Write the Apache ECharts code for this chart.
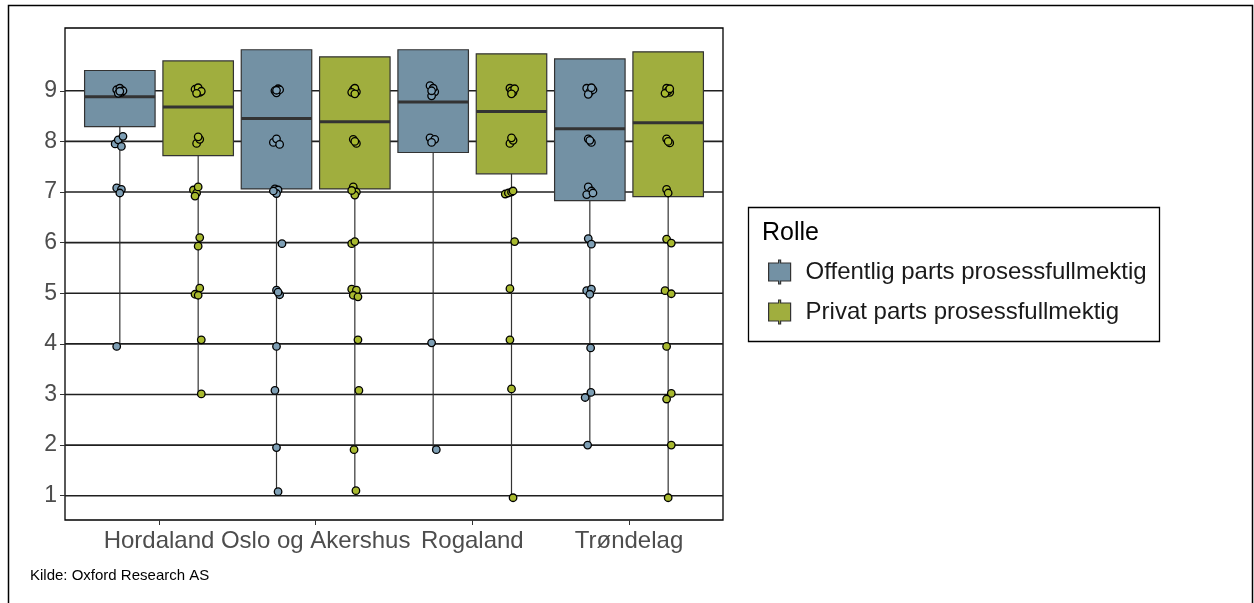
<!DOCTYPE html>
<html>
<head>
<meta charset="utf-8">
<title>Rolle</title>
<script src="https://cdn.jsdelivr.net/npm/echarts@6.0.0/dist/echarts.min.js"></script>
<style>
  html, body { margin: 0; padding: 0; background: #fff; }
  #chart { width: 1254px; height: 603px; }
</style>
</head>
<body>
<div id="chart"></div>
<script>
// data
const regions = ['Hordaland', 'Oslo og Akershus', 'Rogaland', 'Trøndelag'];
const yTicks = [1, 2, 3, 4, 5, 6, 7, 8, 9];
const roles = ['Offentlig parts prosessfullmektig', 'Privat parts prosessfullmektig'];

// box stats per region: whisker low, Q1, median, Q3
const offLow = [3.94, 1.07, 1.9, 2.0];
const offQ1 = [8.29, 7.06, 7.78, 6.83];
const offMedian = [8.88, 8.45, 8.78, 8.25];
const offQ3 = [9.4, 9.81, 9.81, 9.63];

const privLow = [3.01, 1.1, 0.97, 0.97];
const privQ1 = [7.72, 7.06, 7.36, 6.91];
const privMedian = [8.68, 8.39, 8.59, 8.37];
const privQ3 = [9.59, 9.67, 9.73, 9.77];

// jittered answers [x on category scale, score]
const offPoints = [
  [0.73, 9.02], [0.76, 8.97], [0.75, 9.05], [0.74, 8.95], [0.77, 9.0], [0.75, 8.99],
  [0.72, 7.95], [0.74, 8.03], [0.77, 8.1], [0.76, 7.9],
  [0.73, 7.08], [0.76, 7.05], [0.75, 6.98],
  [0.73, 3.95],
  [1.74, 9.0], [1.76, 9.04], [1.75, 8.96], [1.77, 9.02], [1.75, 9.01],
  [1.73, 7.98], [1.75, 8.05], [1.77, 7.94],
  [1.74, 7.06], [1.76, 7.04], [1.75, 6.97], [1.73, 7.02],
  [1.785, 5.98],
  [1.75, 5.06], [1.77, 4.97], [1.76, 5.02],
  [1.75, 3.95], [1.74, 3.08], [1.75, 1.95], [1.76, 1.08],
  [2.73, 9.1], [2.76, 8.98], [2.74, 8.9], [2.75, 9.05], [2.74, 9.0],
  [2.73, 8.07], [2.76, 8.04], [2.74, 7.98],
  [2.74, 4.02], [2.77, 1.91],
  [3.73, 9.05], [3.75, 8.98], [3.77, 9.02], [3.74, 8.93], [3.76, 9.06],
  [3.74, 8.05], [3.76, 7.98], [3.75, 8.02],
  [3.74, 7.1], [3.76, 7.02], [3.73, 6.95], [3.77, 6.98],
  [3.74, 6.08], [3.76, 5.97],
  [3.73, 5.05], [3.76, 5.08], [3.75, 4.98],
  [3.755, 3.92], [3.72, 2.94], [3.757, 3.04], [3.736, 2.0],
];

const privPoints = [
  [1.23, 9.03], [1.26, 8.97], [1.25, 9.06], [1.27, 8.99], [1.24, 8.95],
  [1.24, 7.96], [1.26, 8.04], [1.25, 8.09],
  [1.22, 7.04], [1.24, 6.98], [1.25, 7.1], [1.23, 6.92],
  [1.26, 6.1], [1.25, 5.93],
  [1.26, 5.1], [1.23, 4.98], [1.25, 4.96],
  [1.27, 4.08], [1.27, 3.01],
  [2.24, 9.02], [2.26, 8.98], [2.25, 9.05], [2.23, 8.97], [2.25, 8.94],
  [2.24, 8.04], [2.26, 7.96], [2.25, 8.0],
  [2.24, 7.1], [2.26, 7.0], [2.25, 6.94], [2.23, 7.03],
  [2.23, 5.98], [2.25, 6.02],
  [2.23, 5.08], [2.26, 5.06], [2.24, 4.96], [2.27, 4.93],
  [2.27, 4.08], [2.276, 3.08], [2.245, 1.91], [2.257, 1.1],
  [3.24, 9.05], [3.26, 8.97], [3.25, 9.0], [3.27, 9.04], [3.25, 8.94],
  [3.24, 7.96], [3.26, 8.02], [3.25, 8.07],
  [3.21, 6.96], [3.23, 6.98], [3.25, 7.0], [3.26, 7.02],
  [3.27, 6.02], [3.24, 5.09], [3.24, 4.08], [3.25, 3.11], [3.26, 0.96],
  [4.24, 9.05], [4.26, 8.97], [4.25, 9.0], [4.23, 8.95], [4.26, 9.04],
  [4.24, 8.05], [4.26, 7.97], [4.25, 8.0],
  [4.24, 7.05], [4.25, 6.98],
  [4.24, 6.07], [4.27, 5.99],
  [4.23, 5.05], [4.27, 4.99],
  [4.24, 3.95], [4.27, 3.02], [4.24, 2.91], [4.27, 2.0], [4.25, 0.96],
];

const X_MIN = 0.4;
const X_MAX = 4.6;
const DODGE = 0.25;
const BOX_W = 0.45;

const BLUE = '#7391A4';
const GREEN = '#A0AE3E';
const PT_BLUE = '#7E9FB5';
const PT_GREEN = '#A8B92F';
const LINE = '#333333';
const FONT = 'Liberation Sans, Arial, sans-serif';

const offBoxes = regions.map((r, i) => [i + 1 - DODGE, offLow[i], offQ1[i], offMedian[i], offQ3[i]]);
const privBoxes = regions.map((r, i) => [i + 1 + DODGE, privLow[i], privQ1[i], privMedian[i], privQ3[i]]);

function renderBox(fill) {
  return (params, api) => {
    const x = api.value(0);
    const low = api.coord([x, api.value(1)]);
    const q1 = api.coord([x, api.value(2)]);
    const med = api.coord([x, api.value(3)]);
    const q3 = api.coord([x, api.value(4)]);
    const half = api.size([BOX_W, 0])[0] / 2;
    return {
      type: 'group',
      children: [
        {
          type: 'line',
          shape: { x1: low[0], y1: low[1], x2: q1[0], y2: q1[1] },
          style: { stroke: LINE, lineWidth: 1.2 },
        },
        {
          type: 'rect',
          shape: { x: q3[0] - half, y: q3[1], width: half * 2, height: q1[1] - q3[1] },
          style: { fill: fill, stroke: LINE, lineWidth: 1.2 },
        },
        {
          type: 'line',
          shape: { x1: med[0] - half, y1: med[1], x2: med[0] + half, y2: med[1] },
          style: { stroke: LINE, lineWidth: 3 },
        },
      ],
    };
  };
}

function renderGridLine(params, api) {
  const a = api.coord([X_MIN, api.value(1)]);
  const b = api.coord([X_MAX, api.value(1)]);
  return {
    type: 'line',
    shape: { x1: a[0], y1: a[1], x2: b[0], y2: b[1] },
    style: { stroke: '#1f1f1f', lineWidth: 1.6 },
  };
}

// legend glyph: box with whisker stubs
const boxIcon = 'path://M10,0 h2 v3 h10 v18 h-10 v3 h-2 v-3 h-10 v-18 h10 z';

const chart = echarts.init(document.getElementById('chart'), null, { renderer: 'canvas' });

chart.setOption({
  animation: false,
  backgroundColor: '#ffffff',
  grid: {
    left: 65,
    top: 28,
    width: 658,
    height: 492,
    show: true,
    borderColor: '#000',
    borderWidth: 1.3,
    backgroundColor: 'transparent',
  },
  xAxis: {
    type: 'value',
    min: X_MIN,
    max: X_MAX,
    axisLine: { show: false },
    splitLine: { show: false },
    axisTick: { show: true, customValues: [1, 2, 3, 4], length: 5, lineStyle: { color: LINE } },
    axisLabel: {
      customValues: [1, 2, 3, 4],
      formatter: (v) => regions[Math.round(v) - 1],
      fontFamily: FONT,
      fontSize: 24,
      color: '#4D4D4D',
      margin: 9,
    },
  },
  yAxis: {
    type: 'value',
    min: 0.52,
    max: 10.24,
    axisLine: { show: false },
    splitLine: { show: false },
    axisTick: { show: true, customValues: yTicks, length: 5, lineStyle: { color: LINE } },
    axisLabel: {
      customValues: yTicks,
      fontFamily: FONT,
      fontSize: 23,
      color: '#4D4D4D',
      margin: 8,
    },
  },
  legend: {
    data: roles.map((name) => ({ name: name, icon: boxIcon })),
    orient: 'vertical',
    left: 768,
    top: 259,
    padding: 0,
    itemWidth: 22,
    itemHeight: 24,
    itemGap: 14,
    selectedMode: false,
    itemStyle: { borderColor: LINE, borderWidth: 1.2 },
    textStyle: {
      fontFamily: FONT,
      fontSize: 24,
      color: '#1a1a1a',
      lineHeight: 26,
      padding: [0, 0, 0, 10],
    },
  },
  graphic: [
    {
      type: 'rect',
      shape: { x: 8.5, y: 5.5, width: 1244, height: 620 },
      style: { fill: 'none', stroke: '#000', lineWidth: 1.5 },
      silent: true,
    },
    {
      type: 'rect',
      shape: { x: 748.5, y: 207.5, width: 411, height: 134 },
      style: { fill: '#fff', stroke: '#000', lineWidth: 1.3 },
      z: -1,
      silent: true,
    },
    {
      type: 'text',
      left: 762,
      top: 221,
      style: { text: 'Rolle', font: '25px "Liberation Sans", Arial, sans-serif', fill: '#000' },
    },
    {
      type: 'text',
      left: 30,
      top: 568,
      style: { text: 'Kilde: Oxford Research AS', font: '15px "Liberation Sans Narrow", "Liberation Sans", Arial, sans-serif', fill: '#000' },
    },
  ],
  series: [
    {
      name: 'grid',
      type: 'custom',
      z: 1,
      silent: true,
      renderItem: renderGridLine,
      encode: { x: 0, y: 1 },
      data: yTicks.map((v) => [X_MIN, v]),
    },
    {
      name: roles[0],
      type: 'custom',
      z: 2,
      itemStyle: { color: BLUE, borderColor: LINE, borderWidth: 1.2 },
      renderItem: renderBox(BLUE),
      encode: { x: 0, y: [1, 2, 3, 4] },
      data: offBoxes,
    },
    {
      name: roles[1],
      type: 'custom',
      z: 2,
      itemStyle: { color: GREEN, borderColor: LINE, borderWidth: 1.2 },
      renderItem: renderBox(GREEN),
      encode: { x: 0, y: [1, 2, 3, 4] },
      data: privBoxes,
    },
    {
      name: 'offentlig-punkter',
      type: 'scatter',
      z: 3,
      symbol: 'circle',
      symbolSize: 7.5,
      itemStyle: { color: PT_BLUE, borderColor: '#000', borderWidth: 1.3, opacity: 1 },
      data: offPoints,
    },
    {
      name: 'privat-punkter',
      type: 'scatter',
      z: 3,
      symbol: 'circle',
      symbolSize: 7.5,
      itemStyle: { color: PT_GREEN, borderColor: '#000', borderWidth: 1.3, opacity: 1 },
      data: privPoints,
    },
  ],
});
</script>
</body>
</html>
